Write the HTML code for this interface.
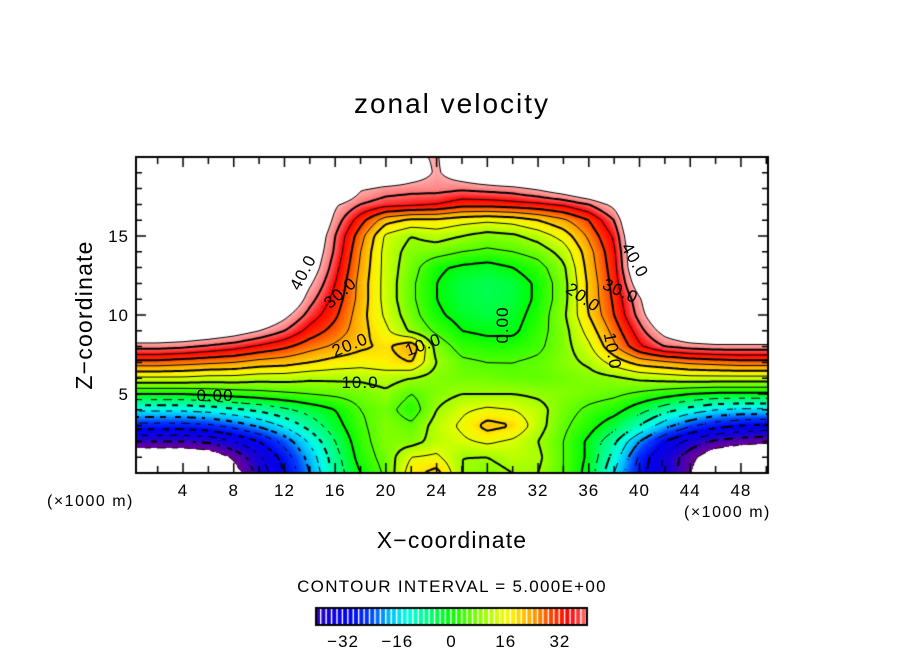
<!DOCTYPE html>
<html><head><meta charset="utf-8">
<style>
body{margin:0;background:#fff;}
#wrap{position:relative;width:904px;height:654px;overflow:hidden;font-family:"Liberation Sans",sans-serif;}
canvas{position:absolute;left:0;top:0;}
svg{position:absolute;left:0;top:0;}
</style></head>
<body>
<div id="wrap">
<canvas id="cv" width="904" height="654"></canvas>
<svg width="904" height="654">
<text x="452" y="113" font-size="28" letter-spacing="2" text-anchor="middle" font-family="Liberation Sans, sans-serif">zonal velocity</text>
<text x="452" y="548" font-size="23" letter-spacing="1.2" text-anchor="middle" font-family="Liberation Sans, sans-serif">X−coordinate</text>
<text transform="translate(92,315) rotate(-90)" font-size="23" letter-spacing="1.2" text-anchor="middle" font-family="Liberation Sans, sans-serif">Z−coordinate</text>
<text x="47" y="506" font-size="16" letter-spacing="1.5" font-family="Liberation Sans, sans-serif">(×1000 m)</text>
<text x="684" y="517" font-size="16" letter-spacing="1.5" font-family="Liberation Sans, sans-serif">(×1000 m)</text>
<text x="452" y="592" font-size="17" letter-spacing="1.3" text-anchor="middle" font-family="Liberation Sans, sans-serif">CONTOUR INTERVAL = 5.000E+00</text>
<g id="labels" font-family="Liberation Sans, sans-serif"></g>
</svg>
</div>
<script>
// grid axes (x in 1000 m, z in 1000 m)
const xs=[0,2,4,6,8,10,12,14,16,18,20,22,24,26,28,30,32,34,36,38,40,42,44,46,48,50];
const zs=[0,1,2,3,4,5,6,7,8,9,10,11,12,13,14,15,16,17,18,19,20];
const uRow0=[-60,-60,-60,-60,-48,-38,-30,-20,-8,0,6,18,22,10,8,10,10,5,-2,-15,-28,-36,-44,-60,-60,-60];
const uRow1=[-52,-52,-52,-50,-44,-36,-28,-18,-7,2,7,15,16,10,10,12,11,5,-1,-12,-26,-36,-43,-50,-52,-52];
const uRow2=[-40,-40,-40,-39,-35,-30,-23,-14,-5,3,8,8,12,14,16,14,10,5,-1,-9,-20,-30,-37,-41,-43,-44];
const uRow3=[-27,-27,-27,-26,-23,-19,-14,-8,-2,4,8,6,12,16,22,20,12,6,2,-3,-10,-18,-24,-28,-30,-31];
const uRow4=[-14,-14,-14,-13,-11,-9,-6,-3,0,5,7,2,10,14,16,15,12,7,4,2,-3,-8,-12,-15,-16,-16];
const uRow5=[0,0,0,1,2,3,4,5,6,7,9,5,8,10,10,10,9,8,7,6,4,2,0,-1,-1,-1];
const uRow6=[14,14,14,13,13,12,12,11,11,11,12,10,8,7,7,6,6,7,8,9,11,12,13,13,13,13];
const uRow7=[28,28,27,26,25,23,22,20,18,17,18,20,10,6,5,5,6,8,11,17,22,24,26,27,28,28];
const uRow8=[42,42,41,39,37,34,31,27,24,21,19,24,8,3,2,2,4,8,14,24,34,40,42,43,43,43];
const uRow9=[55,55,54,52,49,45,40,33,28,22,16,9,4,0,-1,-1,3,8,17,27,38,48,55,58,58,58];
const uRow10=[60,60,60,60,58,55,47,38,31,22,14,7,1,-2,-3,-2,2,9,20,30,42,55,60,60,60,60];
const uRow11=[60,60,60,60,60,60,55,42,33,23,13,6,0,-3,-4,-3,1,8,21,31,44,60,60,60,60,60];
const uRow12=[60,60,60,60,60,60,58,46,35,23,13,6,0,-3,-4,-3,1,8,21,32,50,60,60,60,60,60];
const uRow13=[60,60,60,60,60,60,60,50,37,24,13,7,1,-1,-2,0,3,9,22,33,55,60,60,60,60,60];
const uRow14=[60,60,60,60,60,60,60,52,39,25,13,8,7,5,4,5,7,12,23,34,56,60,60,60,60,60];
const uRow15=[60,60,60,60,60,60,60,54,40,27,14,10,12,10,8,9,12,17,26,36,58,60,60,60,60,60];
const uRow16=[60,60,60,60,60,60,60,58,43,32,22,19,19,17,16,17,20,24,30,40,60,60,60,60,60,60];
const uRow17=[60,60,60,60,60,60,60,60,46,40,37,36,35,32,32,33,34,36,40,47,60,60,60,60,60,60];
const uRow18=[60,60,60,60,60,60,60,60,60,46,43,42,42,41,42,43,46,50,55,60,60,60,60,60,60,60];
const uRow19=[60,60,60,60,60,60,60,60,60,60,58,50,44,50,55,60,60,60,60,60,60,60,60,60,60,60];
const uRow20=[60,60,60,60,60,60,60,60,60,60,60,47,44,55,60,60,60,60,60,60,60,60,60,60,60,60];
const field=[uRow0,uRow1,uRow2,uRow3,uRow4,uRow5,uRow6,uRow7,uRow8,uRow9,uRow10,uRow11,uRow12,uRow13,uRow14,uRow15,uRow16,uRow17,uRow18,uRow19,uRow20];
const xTickLabels=[4,8,12,16,20,24,28,32,36,40,44,48];
const zTickLabels=[5,10,15];
const cbTickLabels=[-32,-16,0,16,32];
const levels=[-45,-40,-35,-30,-25,-20,-15,-10,-5,0,5,10,15,20,25,30,35,40,45];

const L=136,R=768,T=157,B=473;
const X=x=>132.3+12.68*x;
const Z=z=>473-15.8*z;
const Xinv=p=>(p-132.3)/12.68;
const Zinv=p=>(473-p)/15.8;

function val(x,z){
  x=Math.max(xs[0],Math.min(xs[xs.length-1],x));
  z=Math.max(zs[0],Math.min(zs[zs.length-1],z));
  const dx=xs[1]-xs[0],dz=zs[1]-zs[0];
  let i=Math.min(xs.length-2,Math.floor((x-xs[0])/dx));
  let j=Math.min(zs.length-2,Math.floor((z-zs[0])/dz));
  const fx=(x-xs[i])/dx,fz=(z-zs[j])/dz;
  const a=field[j][i],b=field[j][i+1],c=field[j+1][i],d=field[j+1][i+1];
  return (a*(1-fx)+b*fx)*(1-fz)+(c*(1-fx)+d*fx)*fz;
}
const stops=[[-45,110,0,150],[-41,70,0,180],[-37,20,0,215],[-30,0,0,240],[-24,0,60,255],[-18,0,190,255],[-13,0,255,230],[-6,0,255,120],[0,0,255,0],[8,130,255,0],[15,230,255,0],[18,255,240,0],[24,255,165,0],[30,255,60,0],[35,255,0,0],[40,255,110,110],[45,255,175,175]];
function col(v){
  if(v<=stops[0][0])return stops[0].slice(1);
  for(let k=1;k<stops.length;k++){
    if(v<=stops[k][0]){const a=stops[k-1],b=stops[k];const t=(v-a[0])/(b[0]-a[0]);
      return [a[1]+(b[1]-a[1])*t,a[2]+(b[2]-a[2])*t,a[3]+(b[3]-a[3])*t];}
  }
  return stops[stops.length-1].slice(1);
}
const cv=document.getElementById('cv');
const ctx=cv.getContext('2d');
ctx.fillStyle='#fff';ctx.fillRect(0,0,904,654);
const img=ctx.createImageData(R-L,B-T);
for(let py=T;py<B;py++)for(let px=L;px<R;px++){
  const v=val(Xinv(px+0.5),Zinv(py+0.5));
  const o=((py-T)*(R-L)+(px-L))*4;
  let c=(v>45||v<-45)?[255,255,255]:col(v);
  img.data[o]=c[0];img.data[o+1]=c[1];img.data[o+2]=c[2];img.data[o+3]=255;
}
ctx.putImageData(img,L,T);
// contours via marching squares
const S=3;
const nx=Math.ceil((R-L)/S)+1,ny=Math.ceil((B-T)/S)+1;
const g=[];
for(let j=0;j<ny;j++){g.push([]);for(let i=0;i<nx;i++)g[j].push(val(Xinv(L+i*S),Zinv(T+j*S)));}
ctx.save();ctx.beginPath();ctx.rect(L,T,R-L,B-T);ctx.clip();
levels.forEach(lv=>{
  ctx.strokeStyle='#000';
  ctx.lineWidth=(lv%10===0)?2:1;
  ctx.beginPath();
  for(let j=0;j<ny-1;j++)for(let i=0;i<nx-1;i++){
    const a=g[j][i],b=g[j][i+1],c=g[j+1][i+1],d=g[j+1][i];
    const pts=[];
    const ed=(v1,v2,x1,y1,x2,y2)=>{if((v1<lv)!==(v2<lv)){const t=(lv-v1)/(v2-v1);pts.push([x1+(x2-x1)*t,y1+(y2-y1)*t]);}};
    const x0=L+i*S,y0=T+j*S;
    ed(a,b,x0,y0,x0+S,y0);ed(b,c,x0+S,y0,x0+S,y0+S);ed(c,d,x0+S,y0+S,x0,y0+S);ed(d,a,x0,y0+S,x0,y0);
    if(lv<0 && Math.floor((x0+y0)/7)%2===1)continue;
    for(let k=0;k+1<pts.length;k+=2){ctx.moveTo(pts[k][0],pts[k][1]);ctx.lineTo(pts[k+1][0],pts[k+1][1]);}
  }
  ctx.stroke();
});
ctx.restore();
// frame and ticks
ctx.strokeStyle='#000';ctx.lineWidth=2;ctx.strokeRect(L,T,R-L,B-T);
ctx.lineWidth=1.5;ctx.beginPath();
for(let x=2;x<=50;x+=2){const p=X(x);if(p<=L||p>=R)continue;const len=(x%4===0)?10:7;ctx.moveTo(p,B);ctx.lineTo(p,B-len);ctx.moveTo(p,T);ctx.lineTo(p,T+len);}
for(let z=1;z<20;z++){const p=Z(z);const len=(z%5===0)?10:6;ctx.moveTo(L,p);ctx.lineTo(L+len,p);ctx.moveTo(R,p);ctx.lineTo(R-len,p);}
ctx.stroke();
// colorbar
const cbL=316,cbR=587,cbT=608,cbB=625;
const CB=v=>cbL+(v+40)/80*(cbR-cbL);
for(let v=-40;v<40;v+=1.6){const c=col(v+0.8);ctx.fillStyle='rgb('+c.map(Math.round).join(',')+')';ctx.fillRect(CB(v),cbT,CB(v+1.6)-CB(v)-1.4,cbB-cbT);}
ctx.lineWidth=2;ctx.strokeRect(cbL,cbT,cbR-cbL,cbB-cbT);
// svg text labels
const lab=document.getElementById('labels');
const NS='http://www.w3.org/2000/svg';
function txt(s,x,y,anchor,rot,name,size){
  const t=document.createElementNS(NS,'text');
  t.setAttribute('x',x);t.setAttribute('y',y);t.setAttribute('text-anchor',anchor);
  if(size)t.setAttribute('font-size',size);
  t.setAttribute('letter-spacing','1');
  if(rot)t.setAttribute('transform','rotate('+rot+' '+x+' '+y+')');
  t.textContent=s;
  
  
  lab.appendChild(t);return t;
}
xTickLabels.forEach(v=>{txt(String(v),X(v),496,'middle',0,'x-tick-label',17);});
zTickLabels.forEach(v=>{txt(String(v),129,Z(v)+6,'end',0,'y-tick-label',17);});
cbTickLabels.forEach(v=>{txt(v<0?'−'+(-v):String(v),CB(v),647,'middle',0,'colorbar-tick-label',17);});
const cl=[['40.0',308,275,-62],['30.0',344,297,-42],['20.0',352,350,-22],['10.0',360,388,0],['0.00',215,401,0],['10.0',425,350,-20],['0.00',508,325,-90],['20.0',580,302,35],['30.0',618,296,25],['40.0',630,263,60],['10.0',607,352,80]];
cl.forEach(c=>{txt(c[0],c[1],c[2],'middle',c[3],'contour-label',17);});
</script>
</body></html>
